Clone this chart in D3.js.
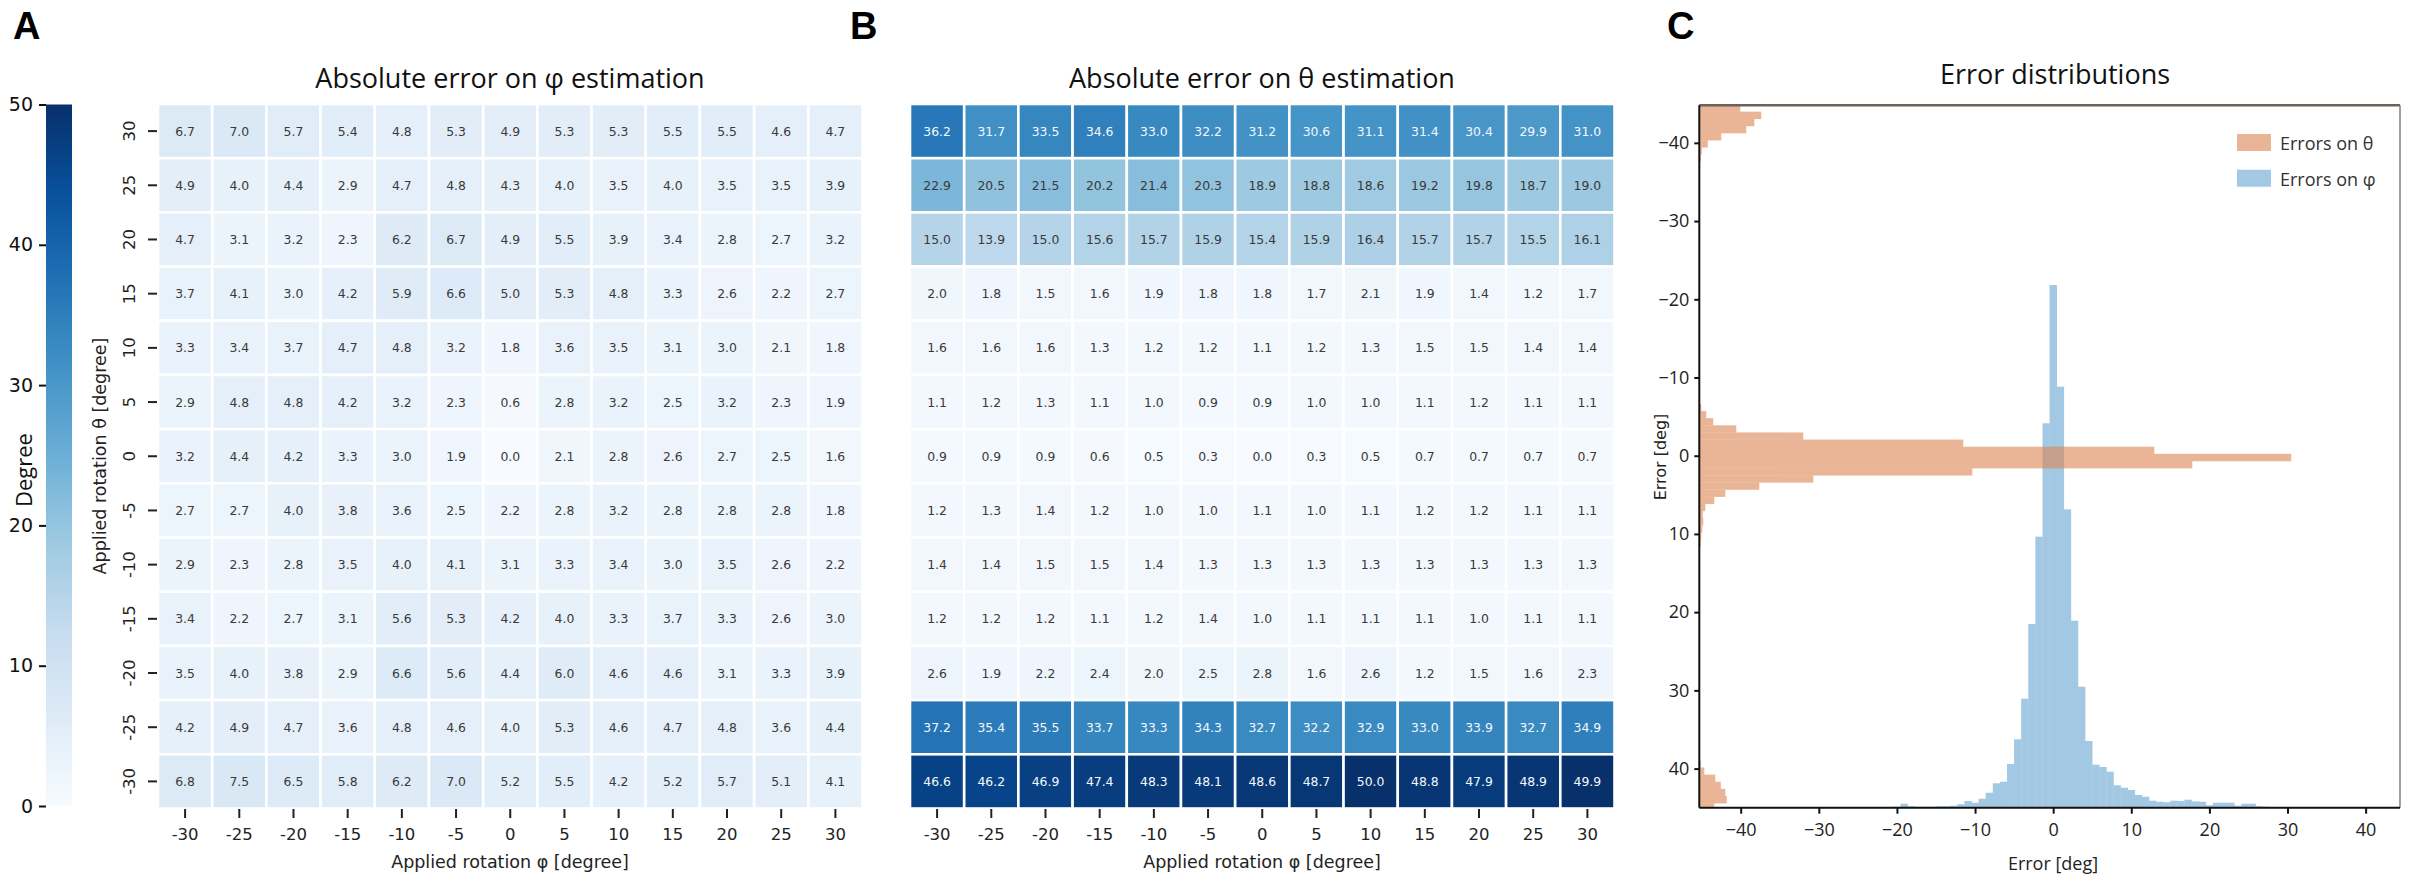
<!DOCTYPE html>
<html>
<head>
<meta charset="utf-8">
<title>Error charts</title>
<script src="https://cdn.jsdelivr.net/npm/d3@7"></script>
<style>
html, body { margin: 0; padding: 0; background: #fff; overflow: hidden; }
svg { display: block; }
</style>
</head>
<body>
<script>
const phiLabels = [-30, -25, -20, -15, -10, -5, 0, 5, 10, 15, 20, 25, 30];
const thetaLabels = [30, 25, 20, 15, 10, 5, 0, -5, -10, -15, -20, -25, -30];

const phiErrors = [
  [6.7, 7.0, 5.7, 5.4, 4.8, 5.3, 4.9, 5.3, 5.3, 5.5, 5.5, 4.6, 4.7],
  [4.9, 4.0, 4.4, 2.9, 4.7, 4.8, 4.3, 4.0, 3.5, 4.0, 3.5, 3.5, 3.9],
  [4.7, 3.1, 3.2, 2.3, 6.2, 6.7, 4.9, 5.5, 3.9, 3.4, 2.8, 2.7, 3.2],
  [3.7, 4.1, 3.0, 4.2, 5.9, 6.6, 5.0, 5.3, 4.8, 3.3, 2.6, 2.2, 2.7],
  [3.3, 3.4, 3.7, 4.7, 4.8, 3.2, 1.8, 3.6, 3.5, 3.1, 3.0, 2.1, 1.8],
  [2.9, 4.8, 4.8, 4.2, 3.2, 2.3, 0.6, 2.8, 3.2, 2.5, 3.2, 2.3, 1.9],
  [3.2, 4.4, 4.2, 3.3, 3.0, 1.9, 0.0, 2.1, 2.8, 2.6, 2.7, 2.5, 1.6],
  [2.7, 2.7, 4.0, 3.8, 3.6, 2.5, 2.2, 2.8, 3.2, 2.8, 2.8, 2.8, 1.8],
  [2.9, 2.3, 2.8, 3.5, 4.0, 4.1, 3.1, 3.3, 3.4, 3.0, 3.5, 2.6, 2.2],
  [3.4, 2.2, 2.7, 3.1, 5.6, 5.3, 4.2, 4.0, 3.3, 3.7, 3.3, 2.6, 3.0],
  [3.5, 4.0, 3.8, 2.9, 6.6, 5.6, 4.4, 6.0, 4.6, 4.6, 3.1, 3.3, 3.9],
  [4.2, 4.9, 4.7, 3.6, 4.8, 4.6, 4.0, 5.3, 4.6, 4.7, 4.8, 3.6, 4.4],
  [6.8, 7.5, 6.5, 5.8, 6.2, 7.0, 5.2, 5.5, 4.2, 5.2, 5.7, 5.1, 4.1]
];

const thetaErrors = [
  [36.2, 31.7, 33.5, 34.6, 33.0, 32.2, 31.2, 30.6, 31.1, 31.4, 30.4, 29.9, 31.0],
  [22.9, 20.5, 21.5, 20.2, 21.4, 20.3, 18.9, 18.8, 18.6, 19.2, 19.8, 18.7, 19.0],
  [15.0, 13.9, 15.0, 15.6, 15.7, 15.9, 15.4, 15.9, 16.4, 15.7, 15.7, 15.5, 16.1],
  [2.0, 1.8, 1.5, 1.6, 1.9, 1.8, 1.8, 1.7, 2.1, 1.9, 1.4, 1.2, 1.7],
  [1.6, 1.6, 1.6, 1.3, 1.2, 1.2, 1.1, 1.2, 1.3, 1.5, 1.5, 1.4, 1.4],
  [1.1, 1.2, 1.3, 1.1, 1.0, 0.9, 0.9, 1.0, 1.0, 1.1, 1.2, 1.1, 1.1],
  [0.9, 0.9, 0.9, 0.6, 0.5, 0.3, 0.0, 0.3, 0.5, 0.7, 0.7, 0.7, 0.7],
  [1.2, 1.3, 1.4, 1.2, 1.0, 1.0, 1.1, 1.0, 1.1, 1.2, 1.2, 1.1, 1.1],
  [1.4, 1.4, 1.5, 1.5, 1.4, 1.3, 1.3, 1.3, 1.3, 1.3, 1.3, 1.3, 1.3],
  [1.2, 1.2, 1.2, 1.1, 1.2, 1.4, 1.0, 1.1, 1.1, 1.1, 1.0, 1.1, 1.1],
  [2.6, 1.9, 2.2, 2.4, 2.0, 2.5, 2.8, 1.6, 2.6, 1.2, 1.5, 1.6, 2.3],
  [37.2, 35.4, 35.5, 33.7, 33.3, 34.3, 32.7, 32.2, 32.9, 33.0, 33.9, 32.7, 34.9],
  [46.6, 46.2, 46.9, 47.4, 48.3, 48.1, 48.6, 48.7, 50.0, 48.8, 47.9, 48.9, 49.9]
];

const colorbarTicks = [0, 10, 20, 30, 40, 50];
const blues = ["#f7fbff", "#deebf7", "#c6dbef", "#9ecae1", "#6baed6", "#4292c6", "#2171b5", "#08519c", "#08306b"];

// histogram heights, one per bin
const phiBinStart = -45;
const phiBinWidth = 0.909;
const phiCounts = [
  0.5, 0.5, 0.5, 0.5, 0.5, 0.5, 0.5, 0.5, 0.5, 0.5, 0.5, 0.5, 0.5, 0.5, 0.5, 0.5, 0.5, 0.5, 0.5, 0.5,
  0.5, 0.5, 0.5, 0.5, 0.5, 0.5, 0.5, 1, 4, 1.5, 1, 1, 1, 1.5, 1.5, 2, 3.5, 6.7, 5, 9,
  15, 24.4, 26, 43.7, 68.4, 109, 183.7, 271, 384.4, 522.7, 421, 298.4, 187, 121, 66.7, 43, 40.7, 36, 22.4, 20,
  17.7, 12.7, 11, 7, 6, 5.5, 7, 6.7, 8, 6.3, 6, 2.5, 5, 5, 5, 2, 4, 4, 1.5, 1,
  0.5, 0.5, 0.5, 0.5, 0.5, 0.5, 0.5, 0.5, 0.5, 0.5, 0.5, 0.5, 0.5, 0.5, 0.5, 0.5, 0.5, 0.5, 0.5
];

const thetaBinStart = -44.9;
const thetaBinWidth = 0.9114;
const thetaCounts = [
  41, 62, 55, 47, 22, 8.5, 2.5, 1.5, 0.8, 0, 0, 0, 0, 0, 0, 0, 0, 0, 0, 0,
  0, 0, 0, 0, 0, 0, 0, 0, 0, 0, 0, 0, 0, 0, 0, 0, 0, 0, 0, 0,
  0, 0.5, 2, 7, 14, 37, 104, 264, 455, 592, 493, 273, 114, 60, 26, 15, 6, 3.5, 4, 3,
  2, 1.5, 0.5, 0, 0, 0, 0, 0, 0, 0, 0, 0, 0, 0, 0, 0, 0, 0, 0, 0,
  0, 0, 0, 0, 0, 0, 0, 0, 0, 0, 0, 0, 1.5, 5, 16, 21.5, 26, 27.5, 15
];

const errorTicksX = [-40, -30, -20, -10, 0, 10, 20, 30, 40];
const errorTicksY = [-40, -30, -20, -10, 0, 10, 20, 30, 40];
const legendNames = ["Errors on θ", "Errors on φ"];

const width = 2409;
const height = 882;
const dejavu = "'DejaVu Sans', sans-serif";
const noto = "'Open Sans', 'Noto Sans', sans-serif";

const svg = d3.select("body").append("svg")
  .attr("width", width)
  .attr("height", height);

const colorScale = d3.scaleLinear()
  .domain(blues.map((c, i) => i * 50 / (blues.length - 1)))
  .range(blues);

// panel letters
[["A", 13], ["B", 850], ["C", 1667]].forEach(([t, x]) => {
  svg.append("text")
    .attr("x", x).attr("y", 39)
    .attr("font-family", "'Liberation Sans', sans-serif")
    .attr("font-weight", "bold")
    .attr("font-size", 38)
    .text(t);
});

// colorbar
const barScale = d3.scaleLinear().domain([0, 50]).range([806, 104.5]);
const grad = svg.append("defs").append("linearGradient")
  .attr("id", "bluesGrad")
  .attr("x1", 0).attr("y1", 1).attr("x2", 0).attr("y2", 0);
blues.forEach((c, i) => {
  grad.append("stop").attr("offset", i / (blues.length - 1)).attr("stop-color", c);
});
svg.append("rect")
  .attr("x", 46).attr("width", 26)
  .attr("y", barScale(50)).attr("height", barScale(0) - barScale(50))
  .attr("fill", "url(#bluesGrad)");
const barAxis = svg.append("g")
  .attr("transform", "translate(46,0)")
  .call(d3.axisLeft(barScale).tickValues(colorbarTicks).tickSize(7).tickPadding(6));
barAxis.select(".domain").remove();
barAxis.selectAll("line").attr("stroke", "#111").attr("stroke-width", 2);
barAxis.selectAll("text").attr("font-family", dejavu).attr("font-size", 19).attr("fill", "#111");
svg.append("text")
  .attr("transform", "translate(23,470) rotate(-90)")
  .attr("text-anchor", "middle")
  .attr("dominant-baseline", "central")
  .attr("font-family", noto)
  .attr("font-size", 22)
  .attr("fill", "#111")
  .text("Degree");

function drawHeatmap(values, left, title, xLabel, yLabel) {
  const x = d3.scaleBand().domain(phiLabels).range([left, left + 704.5]);
  const y = d3.scaleBand().domain(thetaLabels).range([104, 808.5]);
  const g = svg.append("g");

  const cells = values.flatMap((row, r) => row.map((v, c) => ({
    phi: phiLabels[c], theta: thetaLabels[r], v: v
  })));

  g.selectAll("rect")
    .data(cells)
    .enter()
    .append("rect")
    .attr("x", d => x(d.phi))
    .attr("y", d => y(d.theta))
    .attr("width", x.bandwidth())
    .attr("height", y.bandwidth())
    .attr("fill", d => colorScale(d.v))
    .attr("stroke", "#fff")
    .attr("stroke-width", 2.6);

  g.selectAll("text.cell")
    .data(cells)
    .enter()
    .append("text")
    .attr("class", "cell")
    .attr("x", d => x(d.phi) + x.bandwidth() / 2)
    .attr("y", d => y(d.theta) + y.bandwidth() / 2)
    .attr("text-anchor", "middle")
    .attr("dominant-baseline", "central")
    .attr("font-family", dejavu)
    .attr("font-size", 12.4)
    .attr("fill", d => d.v > 25 ? "#f4f8fb" : "#3a3a3a")
    .text(d => d.v.toFixed(1));

  const xAxis = svg.append("g")
    .attr("transform", "translate(0,809)")
    .call(d3.axisBottom(x).tickSize(9).tickPadding(10));
  xAxis.select(".domain").remove();
  xAxis.selectAll("line").attr("stroke", "#222").attr("stroke-width", 2);
  xAxis.selectAll("text").attr("font-family", dejavu).attr("font-size", 16.5).attr("fill", "#222");

  svg.append("text")
    .attr("x", left + 352).attr("y", 77)
    .attr("text-anchor", "middle")
    .attr("dominant-baseline", "central")
    .attr("font-family", noto)
    .attr("font-size", 27)
    .attr("fill", "#111")
    .text(title);

  svg.append("text")
    .attr("x", left + 352).attr("y", 862)
    .attr("text-anchor", "middle")
    .attr("dominant-baseline", "central")
    .attr("font-family", dejavu)
    .attr("font-size", 17.5)
    .attr("fill", "#222")
    .text(xLabel);

  // only the left heatmap has a y axis
  if (yLabel) {
    const yAxis = svg.append("g")
      .attr("transform", `translate(${left - 1},0)`)
      .call(d3.axisLeft(y).tickSize(9));
    yAxis.select(".domain").remove();
    yAxis.selectAll("line").attr("stroke", "#222").attr("stroke-width", 2);
    yAxis.selectAll("text")
      .attr("font-family", dejavu)
      .attr("font-size", 16.5)
      .attr("fill", "#222")
      .attr("x", 0).attr("y", 0).attr("dy", 0)
      .attr("text-anchor", "middle")
      .attr("dominant-baseline", "central")
      .attr("transform", "translate(-28,0) rotate(-90)");

    svg.append("text")
      .attr("transform", `translate(${left - 58},456) rotate(-90)`)
      .attr("text-anchor", "middle")
      .attr("dominant-baseline", "central")
      .attr("font-family", dejavu)
      .attr("font-size", 17.5)
      .attr("fill", "#222")
      .text(yLabel);
  }
}

drawHeatmap(phiErrors, 158, "Absolute error on φ estimation", "Applied rotation φ [degree]", "Applied rotation θ [degree]");
drawHeatmap(thetaErrors, 910, "Absolute error on θ estimation", "Applied rotation φ [degree]", null);

// panel C
const frame = { left: 1699.3, right: 2400, top: 105.3, bottom: 807.7 };
const xErr = d3.scaleLinear().domain([-45.3, 44.4]).range([frame.left, frame.right]);
const yErr = d3.scaleLinear().domain([-44.8, 45]).range([frame.top, frame.bottom]);
const phiHeight = d3.scaleLinear().domain([0, 702.4]).range([frame.bottom, frame.top]);
const thetaLength = d3.scaleLinear().domain([0, 700.7]).range([frame.left, frame.right]);

svg.select("defs").append("clipPath").attr("id", "frameClip")
  .append("rect")
  .attr("x", frame.left).attr("y", frame.top)
  .attr("width", frame.right - frame.left)
  .attr("height", frame.bottom - frame.top);

const hist = svg.append("g").attr("clip-path", "url(#frameClip)");

hist.selectAll("rect.phi")
  .data(phiCounts)
  .enter()
  .append("rect")
  .attr("class", "phi")
  .attr("x", (d, i) => xErr(phiBinStart + i * phiBinWidth))
  .attr("width", xErr(phiBinWidth) - xErr(0) + 0.3)
  .attr("y", d => phiHeight(d))
  .attr("height", d => phiHeight(0) - phiHeight(d))
  .attr("fill", "#a3c8e3");

const orangeBars = hist.append("g").attr("opacity", 0.6);
orangeBars.selectAll("rect")
  .data(thetaCounts)
  .enter()
  .append("rect")
  .attr("x", thetaLength(0))
  .attr("width", d => thetaLength(d) - thetaLength(0))
  .attr("y", (d, i) => yErr(thetaBinStart + i * thetaBinWidth))
  .attr("height", yErr(thetaBinWidth) - yErr(0) + 0.3)
  .attr("fill", "#dd8452");

// frame: dark left and bottom, grey-brown top and right
svg.append("line")
  .attr("x1", frame.left).attr("x2", frame.right)
  .attr("y1", frame.top).attr("y2", frame.top)
  .attr("stroke", "#6d625b").attr("stroke-width", 2.5);
svg.append("line")
  .attr("x1", frame.right).attr("x2", frame.right)
  .attr("y1", frame.top).attr("y2", frame.bottom)
  .attr("stroke", "#8a7d75").attr("stroke-width", 1.5);

const xErrAxis = svg.append("g")
  .attr("transform", `translate(0,${frame.bottom})`)
  .call(d3.axisBottom(xErr).tickValues(errorTicksX).tickSize(6).tickPadding(10));
xErrAxis.select(".domain").attr("d", `M${frame.left},0H${frame.right}`).attr("stroke", "#111").attr("stroke-width", 2);
xErrAxis.selectAll("line").attr("stroke", "#111").attr("stroke-width", 2);
xErrAxis.selectAll("text").attr("font-family", noto).attr("font-size", 18).attr("fill", "#222");

const yErrAxis = svg.append("g")
  .attr("transform", `translate(${frame.left},0)`)
  .call(d3.axisLeft(yErr).tickValues(errorTicksY).tickSize(5).tickPadding(5));
yErrAxis.select(".domain").attr("d", `M0,${frame.top}V${frame.bottom}`).attr("stroke", "#111").attr("stroke-width", 2);
yErrAxis.selectAll("line").attr("stroke", "#111").attr("stroke-width", 2);
yErrAxis.selectAll("text").attr("font-family", noto).attr("font-size", 18).attr("fill", "#222");

svg.append("text")
  .attr("x", 2055).attr("y", 73)
  .attr("text-anchor", "middle")
  .attr("dominant-baseline", "central")
  .attr("font-family", noto)
  .attr("font-size", 27)
  .attr("fill", "#111")
  .text("Error distributions");

svg.append("text")
  .attr("x", 2053).attr("y", 863)
  .attr("text-anchor", "middle")
  .attr("dominant-baseline", "central")
  .attr("font-family", noto)
  .attr("font-size", 18)
  .attr("fill", "#222")
  .text("Error [deg]");

svg.append("text")
  .attr("transform", "translate(1660,457) rotate(-90)")
  .attr("text-anchor", "middle")
  .attr("dominant-baseline", "central")
  .attr("font-family", dejavu)
  .attr("font-size", 16)
  .attr("fill", "#222")
  .text("Error [deg]");

// legend
const legendFill = ["#eab597", "#a3c8e3"];
legendNames.forEach((name, i) => {
  svg.append("rect")
    .attr("x", 2237).attr("y", 134 + i * 35.7)
    .attr("width", 34).attr("height", 17)
    .attr("fill", legendFill[i]);
  svg.append("text")
    .attr("x", 2280).attr("y", 143 + i * 35.7)
    .attr("dominant-baseline", "central")
    .attr("font-family", noto)
    .attr("font-size", 18)
    .attr("fill", "#333")
    .text(name);
});
</script>
</body>
</html>
